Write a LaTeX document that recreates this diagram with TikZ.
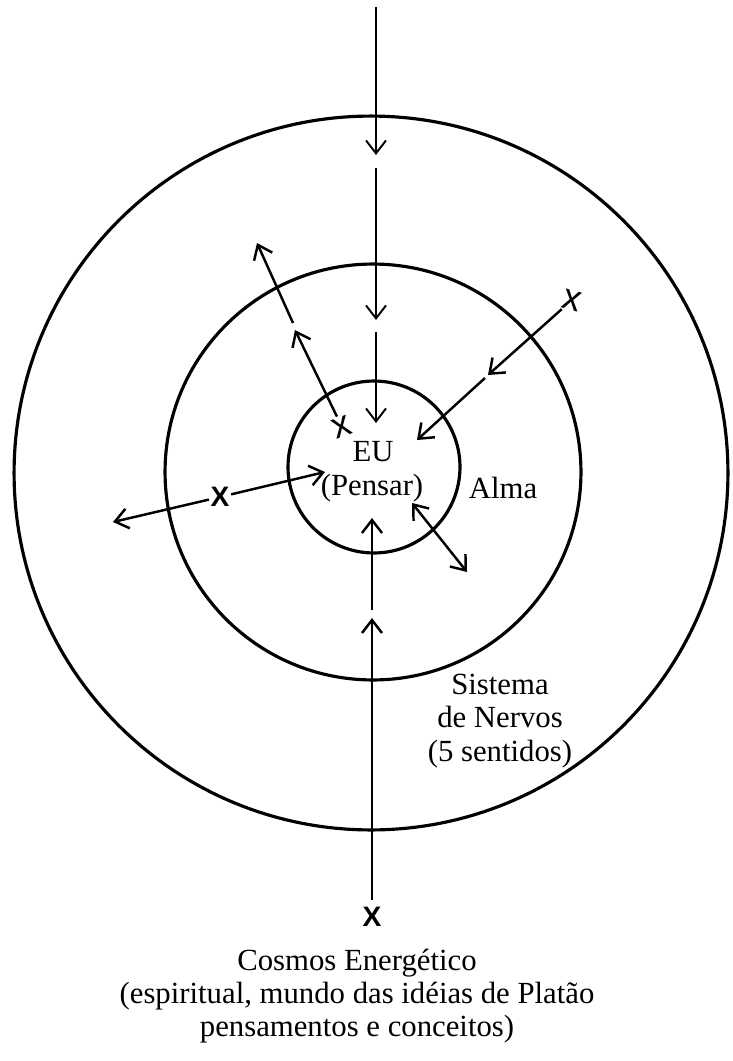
\documentclass[tikz,border=0pt]{standalone}
\usepackage{fontspec}
\setmainfont{Liberation Serif}
\newfontfamily\crossfont{Liberation Sans}
\usetikzlibrary{arrows.meta}

\begin{document}
\begin{tikzpicture}[
    x=0.02cm, y=-0.02cm,
    ring/.style={draw, line width=1.8pt},
    arrow/.style={-{Straight Barb[length=2.6mm, width=4mm]}, line width=1.4pt},
    thin arrow/.style={arrow, line width=1.1pt},
    twoway arrow/.style={{Straight Barb[length=2.6mm, width=4mm]}-{Straight Barb[length=2.6mm, width=4mm]}, line width=1.4pt},
    lbl/.style={font=\fontsize{17.5}{19}\selectfont, align=center, inner sep=0pt},
    cross/.style={font=\crossfont\bfseries\fontsize{16}{18}\selectfont, inner sep=0pt, outer sep=1pt},
    small cross/.style={cross, font=\crossfont\fontsize{21}{23}\selectfont}
]
\useasboundingbox (0,0) rectangle (733,1061);

% Three spheres
\coordinate (cosmos) at (371,473);
\coordinate (nervos) at (373,472);
\coordinate (eu) at (374,467);
\draw[ring] (cosmos) circle[radius=7.14cm];
\draw[ring] (nervos) circle[radius=4.16cm];
\draw[ring] (eu) circle[radius=1.72cm];

% Labels
\node[lbl] (eutxt) at (373,452) {EU};
\node[lbl] (pensar) at (372,488) {(Pensar)};
\node[lbl] (alma) at (503,488) {Alma};
\node[lbl] (sistema) at (500,721) {Sistema\\de Nervos\\(5 sentidos)};
\node[lbl] (platao) at (357,996) {Cosmos Energético\\(espiritual, mundo das idéias de Platão\\pensamentos e conceitos)};

% Crosses
\node[cross, outer sep=4pt] (xbot) at (372,917) {X};
\node[cross] (xleft) at (220,497) {X};
\node[small cross, rotate=-15] (xright) at (572,300) {x};
\node[small cross, rotate=20] (xinner) at (342,427) {x};

% Free ends of the connectors
\coordinate (top0) at (376,7);
\coordinate (top1) at (376,155);
\coordinate (top2) at (376,168);
\coordinate (top3) at (376,320);
\coordinate (top4) at (376,332);
\coordinate (top5) at (376,423);
\coordinate (bot1) at (372,618);
\coordinate (bot2) at (372,610);
\coordinate (bot3) at (372,518);
\coordinate (ul1) at (295,330);
\coordinate (ul2) at (293,323);
\coordinate (ul3) at (257,243);
\coordinate (ur1) at (488,375);
\coordinate (ur2) at (485,378);
\coordinate (ur3) at (417,440);
\coordinate (lf1) at (325,472);
\coordinate (lf2) at (113,522);
\coordinate (lr1) at (412,503);
\coordinate (lr2) at (467,572);

% Down from the top
\draw[thin arrow] (top0) -- (top1);
\draw[thin arrow] (top2) -- (top3);
\draw[thin arrow] (top4) -- (top5);

% Up from the bottom
\draw[arrow] (xbot) -- (bot1);
\draw[arrow] (bot2) -- (bot3);

% Out to the upper left
\draw[arrow] (xinner) -- (ul1);
\draw[arrow] (ul2) -- (ul3);

% In from the upper right
\draw[arrow] (xright) -- (ur1);
\draw[arrow] (ur2) -- (ur3);

% Left cross, both ways
\draw[arrow] (xleft) -- (lf1);
\draw[arrow] (xleft) -- (lf2);

% Lower right, both ways
\draw[twoway arrow] (lr1) -- (lr2);
\end{tikzpicture}
\end{document}
